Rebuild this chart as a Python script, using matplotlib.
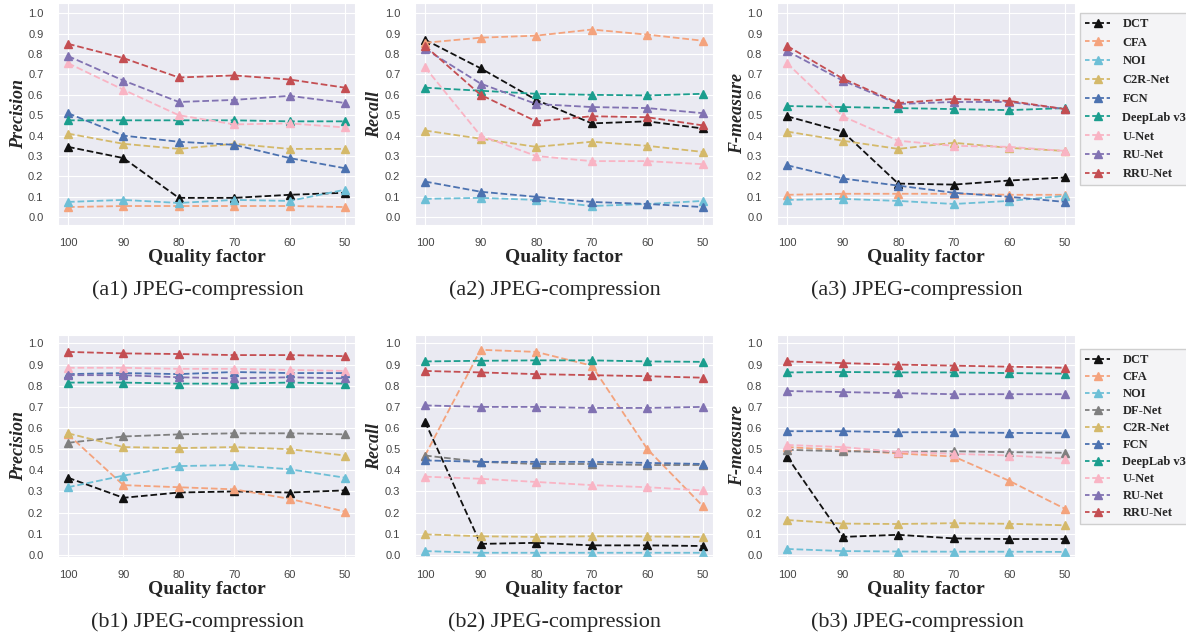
import matplotlib.pyplot as plt
import seaborn as sns

W, H = 1186, 638

quality = [100, 90, 80, 70, 60, 50]

methods_a = ['DCT', 'CFA', 'NOI', 'C2R-Net', 'FCN', 'DeepLab v3', 'U-Net', 'RU-Net', 'RRU-Net']
methods_b = ['DCT', 'CFA', 'NOI', 'DF-Net', 'C2R-Net', 'FCN', 'DeepLab v3', 'U-Net', 'RU-Net', 'RRU-Net']

colors = {
    'DCT': '#111111',
    'CFA': '#f4a37d',
    'NOI': '#6dbfd6',
    'DF-Net': '#7f7f7f',
    'C2R-Net': '#d4b96a',
    'FCN': '#4c72b0',
    'DeepLab v3': '#1b9e8e',
    'U-Net': '#f9b4c4',
    'RU-Net': '#8172b2',
    'RRU-Net': '#c44e52',
}

# first row
a1_precision = {
    'DCT': [0.345, 0.29, 0.095, 0.095, 0.11, 0.12],
    'CFA': [0.05, 0.055, 0.055, 0.055, 0.055, 0.05],
    'NOI': [0.075, 0.085, 0.07, 0.085, 0.08, 0.135],
    'C2R-Net': [0.41, 0.36, 0.335, 0.36, 0.335, 0.335],
    'FCN': [0.51, 0.40, 0.37, 0.355, 0.29, 0.24],
    'DeepLab v3': [0.475, 0.475, 0.475, 0.475, 0.47, 0.47],
    'U-Net': [0.755, 0.625, 0.50, 0.455, 0.46, 0.44],
    'RU-Net': [0.79, 0.67, 0.565, 0.575, 0.595, 0.56],
    'RRU-Net': [0.85, 0.78, 0.685, 0.695, 0.675, 0.635],
}
a2_recall = {
    'DCT': [0.87, 0.73, 0.575, 0.46, 0.47, 0.435],
    'CFA': [0.855, 0.88, 0.89, 0.92, 0.895, 0.865],
    'NOI': [0.09, 0.095, 0.085, 0.055, 0.065, 0.08],
    'C2R-Net': [0.425, 0.385, 0.345, 0.37, 0.35, 0.32],
    'FCN': [0.175, 0.125, 0.10, 0.075, 0.065, 0.05],
    'DeepLab v3': [0.635, 0.62, 0.605, 0.60, 0.597, 0.605],
    'U-Net': [0.735, 0.40, 0.30, 0.275, 0.275, 0.26],
    'RU-Net': [0.825, 0.655, 0.555, 0.54, 0.535, 0.51],
    'RRU-Net': [0.84, 0.60, 0.47, 0.495, 0.49, 0.45],
}
a3_fmeasure = {
    'DCT': [0.495, 0.42, 0.165, 0.16, 0.18, 0.195],
    'CFA': [0.11, 0.115, 0.115, 0.115, 0.11, 0.11],
    'NOI': [0.085, 0.09, 0.08, 0.065, 0.08, 0.105],
    'C2R-Net': [0.42, 0.375, 0.335, 0.365, 0.34, 0.325],
    'FCN': [0.255, 0.19, 0.155, 0.12, 0.10, 0.075],
    'DeepLab v3': [0.545, 0.54, 0.535, 0.53, 0.525, 0.535],
    'U-Net': [0.755, 0.495, 0.375, 0.35, 0.345, 0.325],
    'RU-Net': [0.815, 0.67, 0.555, 0.565, 0.565, 0.53],
    'RRU-Net': [0.84, 0.68, 0.56, 0.58, 0.57, 0.53],
}

# second row
b1_precision = {
    'DCT': [0.365, 0.27, 0.295, 0.30, 0.295, 0.305],
    'CFA': [0.57, 0.33, 0.32, 0.31, 0.265, 0.205],
    'NOI': [0.32, 0.375, 0.42, 0.425, 0.405, 0.365],
    'DF-Net': [0.53, 0.56, 0.57, 0.575, 0.575, 0.57],
    'C2R-Net': [0.575, 0.51, 0.505, 0.51, 0.50, 0.47],
    'FCN': [0.855, 0.86, 0.855, 0.865, 0.86, 0.86],
    'DeepLab v3': [0.815, 0.815, 0.81, 0.81, 0.815, 0.81],
    'U-Net': [0.885, 0.885, 0.88, 0.88, 0.875, 0.87],
    'RU-Net': [0.85, 0.85, 0.84, 0.835, 0.84, 0.835],
    'RRU-Net': [0.96, 0.953, 0.95, 0.945, 0.945, 0.94],
}
b2_recall = {
    'DCT': [0.63, 0.052, 0.057, 0.045, 0.045, 0.042],
    'CFA': [0.47, 0.97, 0.96, 0.895, 0.50, 0.23],
    'NOI': [0.018, 0.01, 0.01, 0.01, 0.01, 0.01],
    'DF-Net': [0.47, 0.44, 0.43, 0.43, 0.425, 0.425],
    'C2R-Net': [0.097, 0.088, 0.085, 0.088, 0.087, 0.085],
    'FCN': [0.447, 0.44, 0.44, 0.44, 0.435, 0.43],
    'DeepLab v3': [0.915, 0.918, 0.92, 0.92, 0.915, 0.913],
    'U-Net': [0.37, 0.36, 0.345, 0.33, 0.32, 0.305],
    'RU-Net': [0.707, 0.70, 0.70, 0.695, 0.695, 0.70],
    'RRU-Net': [0.87, 0.863, 0.855, 0.85, 0.845, 0.838],
}
b3_fmeasure = {
    'DCT': [0.465, 0.085, 0.095, 0.078, 0.075, 0.075],
    'CFA': [0.51, 0.495, 0.48, 0.465, 0.35, 0.218],
    'NOI': [0.028, 0.018, 0.016, 0.015, 0.015, 0.014],
    'DF-Net': [0.497, 0.49, 0.487, 0.49, 0.486, 0.483],
    'C2R-Net': [0.165, 0.148, 0.146, 0.15, 0.147, 0.14],
    'FCN': [0.585, 0.585, 0.58, 0.58, 0.577, 0.575],
    'DeepLab v3': [0.863, 0.865, 0.863, 0.863, 0.86, 0.857],
    'U-Net': [0.52, 0.51, 0.487, 0.478, 0.47, 0.455],
    'RU-Net': [0.775, 0.77, 0.765, 0.76, 0.76, 0.76],
    'RRU-Net': [0.915, 0.907, 0.90, 0.895, 0.89, 0.885],
}

sns.set_style('darkgrid')
plt.rcParams['font.family'] = ['Liberation Sans', 'DejaVu Sans']

SERIF = 'Liberation Serif'


def fig_box(left, top, right, bottom):
    # pixel box -> figure fraction [x0, y0, w, h]
    return [left / W, 1 - bottom / H, (right - left) / W, (bottom - top) / H]


def fig_xy(x, y):
    return x / W, 1 - y / H


def draw_panel(fig, box, data, methods, ylabel, ylabel_x, caption, ylim):
    ax = fig.add_axes(fig_box(*box))
    for m in methods:
        ax.plot(quality, data[m], ls='--', lw=1.3, marker='^', ms=6.3,
                color=colors[m], label=m)
    ax.set_xlim(101.8, 48.2)
    ax.set_ylim(*ylim)
    ax.set_xticks(quality)
    ax.set_yticks([i / 10 for i in range(11)])
    ax.tick_params(axis='both', labelsize=8, colors='#444444')
    ax.tick_params(axis='x', pad=6)
    ax.tick_params(axis='y', pad=7)

    left, top, right, bottom = box
    cx = (left + right) / 2
    cy = (top + bottom) / 2
    fig.text(*fig_xy(ylabel_x, cy), ylabel, rotation=90, ha='center', va='center',
             family=SERIF, fontweight='bold', style='italic', fontsize=13)
    fig.text(*fig_xy(cx, bottom + 33), 'Quality factor', ha='center', va='center',
             family=SERIF, fontweight='bold', fontsize=14)
    fig.text(*fig_xy(cx - 9, bottom + 65), caption, ha='center', va='center',
             family=SERIF, fontsize=16)
    return ax


def add_legend(fig, ax, x, y, spacing):
    leg = fig.legend(*ax.get_legend_handles_labels(), loc='upper left',
                     bbox_to_anchor=fig_xy(x, y), borderaxespad=0,
                     numpoints=1, handlelength=2.0, handletextpad=1.0,
                     borderpad=0.4, labelspacing=spacing, fancybox=False,
                     facecolor='#f4f4f6', edgecolor='#cfcfcf', framealpha=1,
                     prop={'family': SERIF, 'weight': 'bold', 'size': 9})
    for line in leg.get_lines():
        line.set_dashes([2.5, 1.5])
        line.set_markersize(5.5)


fig = plt.figure(figsize=(W / 100, H / 100), dpi=100)

top_lim = (-0.038, 1.05)
draw_panel(fig, (58, 3, 355, 225), a1_precision, methods_a, 'Precision', 19,
           '(a1) JPEG-compression', top_lim)
draw_panel(fig, (415, 3, 713, 225), a2_recall, methods_a, 'Recall', 375,
           '(a2) JPEG-compression', top_lim)
ax_a3 = draw_panel(fig, (777, 3, 1075, 225), a3_fmeasure, methods_a, 'F-measure', 738,
                   '(a3) JPEG-compression', top_lim)
add_legend(fig, ax_a3, 1080, 13, 0.54)

bottom_lim = (-0.01, 1.04)
draw_panel(fig, (58, 335, 355, 557), b1_precision, methods_b, 'Precision', 19,
           '(b1) JPEG-compression', bottom_lim)
draw_panel(fig, (415, 335, 713, 557), b2_recall, methods_b, 'Recall', 375,
           '(b2) JPEG-compression', bottom_lim)
ax_b3 = draw_panel(fig, (777, 335, 1075, 557), b3_fmeasure, methods_b, 'F-measure', 738,
                   '(b3) JPEG-compression', bottom_lim)
add_legend(fig, ax_b3, 1080, 349, 0.40)

fig.savefig('out.png', dpi=100)
